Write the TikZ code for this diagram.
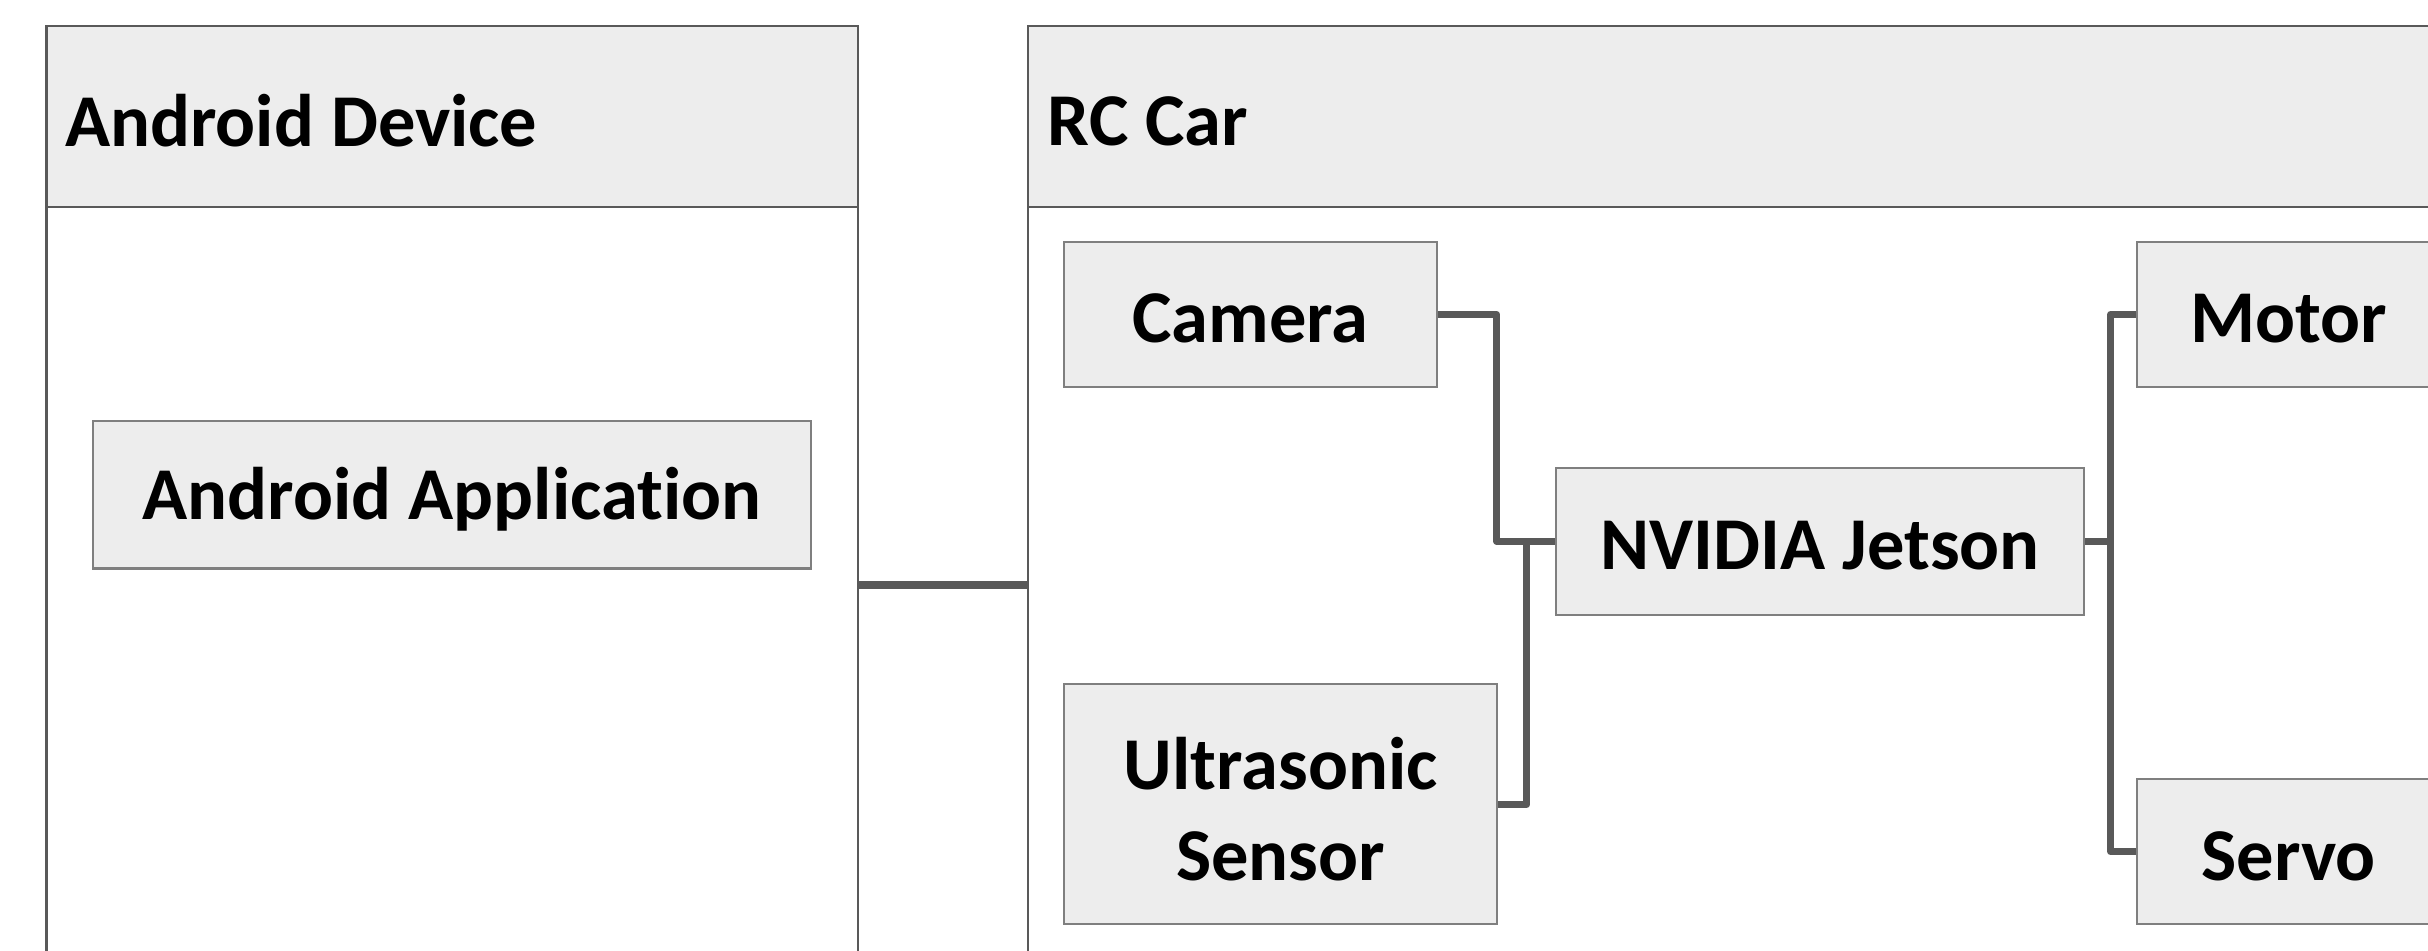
\documentclass[tikz,border=0pt]{standalone}
\usepackage{fontspec}
\setmainfont{Carlito}[Ligatures=CommonOff]
\usetikzlibrary{positioning,calc}
\definecolor{boxfill}{HTML}{EDEDED}
\definecolor{boxline}{HTML}{7F7F7F}
\definecolor{linkgray}{HTML}{595959}
% text sits a little below the middle of each box
\newcommand{\lowtext}[1]{\raisebox{-0.045cm}[\height][\depth]{#1}}
\tikzset{
  lane/.style={draw=linkgray, line width=0.6pt, fill=white, inner sep=0pt},
  lanehead/.style={draw=linkgray, line width=0.6pt, fill=boxfill, inner sep=0pt},
  lanetitle/.style={font=\bfseries\fontsize{21.2}{26}\selectfont, anchor=west, inner sep=0pt},
  part/.style={draw=boxline, line width=0.6pt, fill=boxfill, align=center,
    font=\bfseries\fontsize{21.2}{26}\selectfont, inner sep=0pt},
  link/.style={draw=linkgray, line width=1.95pt, line join=round},
}
\begin{document}
\begin{tikzpicture}
  \useasboundingbox (0,0) rectangle (24.28,-9.51);
  \clip (0,0) rectangle (24.28,-9.51);
  % the two lanes
  \node[lane, minimum width=8.115cm, minimum height=11.18cm] (phone) at (4.5225,-5.85) {};
  \node[lanehead, minimum width=8.115cm, minimum height=1.812cm, anchor=north] (phonehead) at (phone.north) {};
  \node[lanetitle] (phonetitle) at ([xshift=0.19cm]phonehead.west) {\lowtext{Android Device}};
  \node[lane, minimum width=15.718cm, minimum height=11.18cm] (car) at (18.141,-5.85) {};
  \node[lanehead, minimum width=15.718cm, minimum height=1.812cm, anchor=north] (carhead) at (car.north) {};
  \node[lanetitle] (cartitle) at ([xshift=0.2cm]carhead.west) {\lowtext{RC Car}};
  % parts
  \node[part, minimum width=7.185cm, minimum height=1.471cm] (app) at (4.52,-4.95) {\lowtext{Android Application}};
  \node[part, minimum width=3.732cm, minimum height=1.455cm] (cam) at (12.504,-3.1435) {\lowtext{Camera}};
  \node[part, minimum width=4.336cm, minimum height=2.4cm] (sonic) at (12.806,-8.044) {\lowtext{Ultrasonic}\\\lowtext{Sensor}};
  \node[part, minimum width=5.281cm, minimum height=1.472cm] (jet) at (18.2025,-5.412) {\lowtext{NVIDIA Jetson}};
  \node[part, minimum width=3.03cm, minimum height=1.455cm] (motor) at (22.885,-3.1435) {\lowtext{Motor}};
  \node[part, minimum width=3.03cm, minimum height=1.455cm] (servo) at (22.885,-8.5165) {\lowtext{Servo}};
  % links
  \draw[link, line width=2.3pt] (phone.east) -- (car.west);
  \foreach \src/\dst in {cam/jet, sonic/jet, jet/motor, jet/servo}
    \draw[link] (\src.east) -| ($(\src.east)!.5!(\dst.west)$) |- (\dst.west);
\end{tikzpicture}
\end{document}
